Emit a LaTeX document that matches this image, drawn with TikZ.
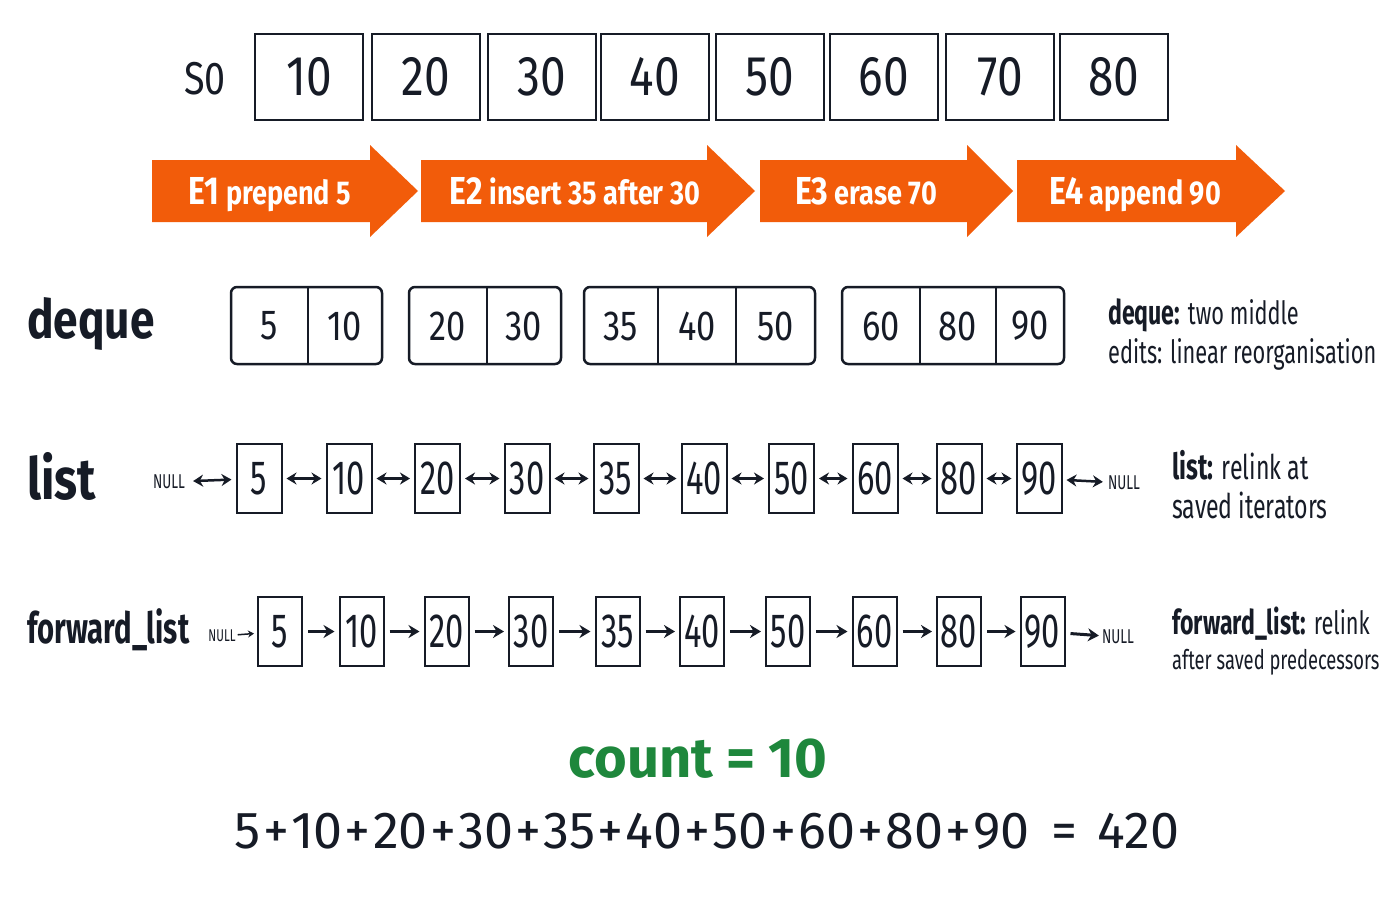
\documentclass[tikz,border=0pt]{standalone}
\usepackage{fontspec}
\setmainfont{Fira Sans}
\newfontfamily\cond[FakeStretch=0.82]{Fira Sans}
\newfontfamily\narrow[FakeStretch=0.68]{Fira Sans}
\usetikzlibrary{arrows.meta}
\definecolor{ink}{RGB}{22,27,38}
\definecolor{orng}{RGB}{242,92,10}
\definecolor{grn}{RGB}{30,135,60}
\tikzset{
  topcell/.style={draw=ink, line width=2.5pt, minimum width=108pt, minimum height=86pt, inner sep=0pt, text=ink, font=\cond\fontsize{56}{56}\selectfont},
  dqnum/.style={text=ink, inner sep=0pt, font=\cond\fontsize{42}{42}\selectfont},
  dqbox/.style={draw=ink, line width=2.5pt, rounded corners=6pt},
  lcell/.style={draw=ink, line width=2pt, minimum width=45pt, minimum height=69pt, inner sep=0pt, text=ink, font=\narrow\fontsize{48}{48}\selectfont},
  fcell/.style={draw=ink, line width=2pt, minimum width=44pt, minimum height=69pt, inner sep=0pt, text=ink, font=\narrow\fontsize{48}{48}\selectfont},
  rowlabel/.style={text=ink, anchor=west, inner sep=0pt, font=\bfseries\cond\fontsize{54}{54}\selectfont},
  nulltxt/.style={text=ink, inner sep=0pt, font=\narrow\fontsize{20}{20}\selectfont},
  dbl/.style={ink, line width=2.5pt, {Stealth[length=10pt,width=12pt]}-{Stealth[length=10pt,width=12pt]}, shorten <=4pt, shorten >=4pt},
  fwd/.style={ink, line width=3pt, -{Stealth[length=11pt,width=13pt]}, shorten <=5pt, shorten >=4pt},
  note/.style={text=ink, anchor=west, inner sep=0pt, font=\narrow\fontsize{32}{32}\selectfont},
  arrtxt/.style={text=white, inner sep=0pt, anchor=base, font=\bfseries\cond\fontsize{33}{33}\selectfont},
}
\newcommand\plusk{\kern2.2pt+\kern2.2pt}
\begin{document}
\begin{tikzpicture}[x=1pt,y=-1pt]
\useasboundingbox (0,0) rectangle (1400,900);
\fill[white] (0,0) rectangle (1400,900);

% S0 row
\node[text=ink, font=\cond\fontsize{46}{46}\selectfont, inner sep=0pt] (s0) at (205,79) {S0};
\foreach \x/\v/\n in {309/10/1, 426/20/2, 542/30/3, 655/40/4, 770/50/5, 884/60/6, 1000/70/7, 1114/80/8}
  \node[topcell] (t\n) at (\x,77) {\v};

% operation arrows
\fill[orng] (152,160) -- (370,160) -- (370,145) -- (418,191) -- (370,237) -- (370,222) -- (152,222) -- cycle;
\fill[orng] (421,160) -- (707,160) -- (707,145) -- (755,191) -- (707,237) -- (707,222) -- (421,222) -- cycle;
\fill[orng] (760,160) -- (967,160) -- (967,145) -- (1013,191) -- (967,237) -- (967,222) -- (760,222) -- cycle;
\fill[orng] (1017,160) -- (1236,160) -- (1236,145) -- (1285,191) -- (1236,237) -- (1236,222) -- (1017,222) -- cycle;
\node[arrtxt] (e1) at (270,204) {{\fontsize{39}{39}\selectfont E1} prepend 5};
\node[arrtxt] (e2) at (575,204) {{\fontsize{39}{39}\selectfont E2} insert 35 after 30};
\node[arrtxt] (e3) at (866,204) {{\fontsize{39}{39}\selectfont E3} erase 70};
\node[arrtxt] (e4) at (1135,204) {{\fontsize{39}{39}\selectfont E4} append 90};

% deque row
\node[rowlabel] (dql) at (27,324) {deque};
\draw[dqbox] (231,287) rectangle (382,364);
\draw[ink, line width=2pt] (308,287) -- (308,364);
\draw[dqbox] (409,287) rectangle (561,364);
\draw[ink, line width=2pt] (487,287) -- (487,364);
\draw[dqbox] (584,287) rectangle (815,364);
\draw[ink, line width=2pt] (658,287) -- (658,364) (736,287) -- (736,364);
\draw[dqbox] (842,287) rectangle (1064,364);
\draw[ink, line width=2pt] (920,287) -- (920,364) (996,287) -- (996,364);
\foreach \x/\v/\n in {269.5/5/1, 345/10/2, 448/20/3, 524/30/4, 621/35/5, 697/40/6, 775.5/50/7, 881/60/8, 958/80/9, 1030/90/10}
  \node[dqnum] (d\n) at (\x,326) {\v};
\node[note] (dqn1) at (1108,315) {{\bfseries\fontsize{34}{34}\selectfont deque:} two middle};
\node[note] (dqn2) at (1108,354) {edits: linear reorganisation};

% list row
\node[rowlabel, font=\bfseries\cond\fontsize{58}{58}\selectfont] (ll) at (27,476) {list};
\foreach \x/\v/\n in {259/5/1, 349/10/2, 437.5/20/3, 527/30/4, 616/35/5, 704/40/6, 791.5/50/7, 875/60/8, 959/80/9, 1039/90/10}
  \node[lcell] (l\n) at (\x,478.5) {\v};
\node[nulltxt] (ln0) at (169,482) {NULL};
\node[nulltxt] (ln1) at (1124,483) {NULL};
\draw[dbl, shorten <=8pt] (ln0) -- (l1);
\foreach \a/\b in {1/2,2/3,3/4,4/5,5/6,6/7,7/8,8/9,9/10}
  \draw[dbl] (l\a) -- (l\b);
\draw[dbl, shorten >=5pt] (l10) -- (ln1);
\node[note, font=\narrow\fontsize{34}{34}\selectfont] (lno1) at (1172,465) {{\bfseries\fontsize{36}{36}\selectfont list:} relink at};
\node[note, font=\narrow\fontsize{34}{34}\selectfont] (lno2) at (1172,505) {saved iterators};

% forward_list row
\node[rowlabel, font=\bfseries\narrow\fontsize{43}{43}\selectfont] (fl) at (27,630) {forward\_list};
\foreach \x/\v/\n in {280/5/1, 361.5/10/2, 446.5/20/3, 531/30/4, 617.5/35/5, 702/40/6, 788/50/7, 874.5/60/8, 959/80/9, 1042.5/90/10}
  \node[fcell] (f\n) at (\x,631.5) {\v};
\node[nulltxt, font=\narrow\fontsize{17}{17}\selectfont] (fn0) at (222,636) {NULL};
\node[nulltxt] (fn1) at (1118,637) {NULL};
\draw[ink, line width=1.5pt, -{Stealth[length=6pt,width=7pt]}, shorten <=2pt, shorten >=3pt] (fn0) -- (f1);
\foreach \a/\b in {1/2,2/3,3/4,4/5,5/6,6/7,7/8,8/9,9/10}
  \draw[fwd] (f\a) -- (f\b);
\draw[fwd, shorten >=3pt] (f10) -- (fn1);
\node[note] (fno1) at (1172,624) {{\bfseries\fontsize{34}{34}\selectfont forward\_list:} relink};
\node[note, font=\narrow\fontsize{27}{27}\selectfont] (fno2) at (1172,662) {after saved predecessors};

% totals
\node[text=grn, inner sep=0pt, font=\bfseries\fontsize{56}{56}\selectfont] (cnt) at (698,759) {count = 10};
\node[text=ink, inner sep=0pt, font=\fontsize{52}{52}\selectfont] (sum) at (707,831) {5\plusk10\plusk20\plusk30\plusk35\plusk40\plusk50\plusk60\plusk80\plusk90\kern22pt=\kern20pt420};
\end{tikzpicture}
\end{document}
